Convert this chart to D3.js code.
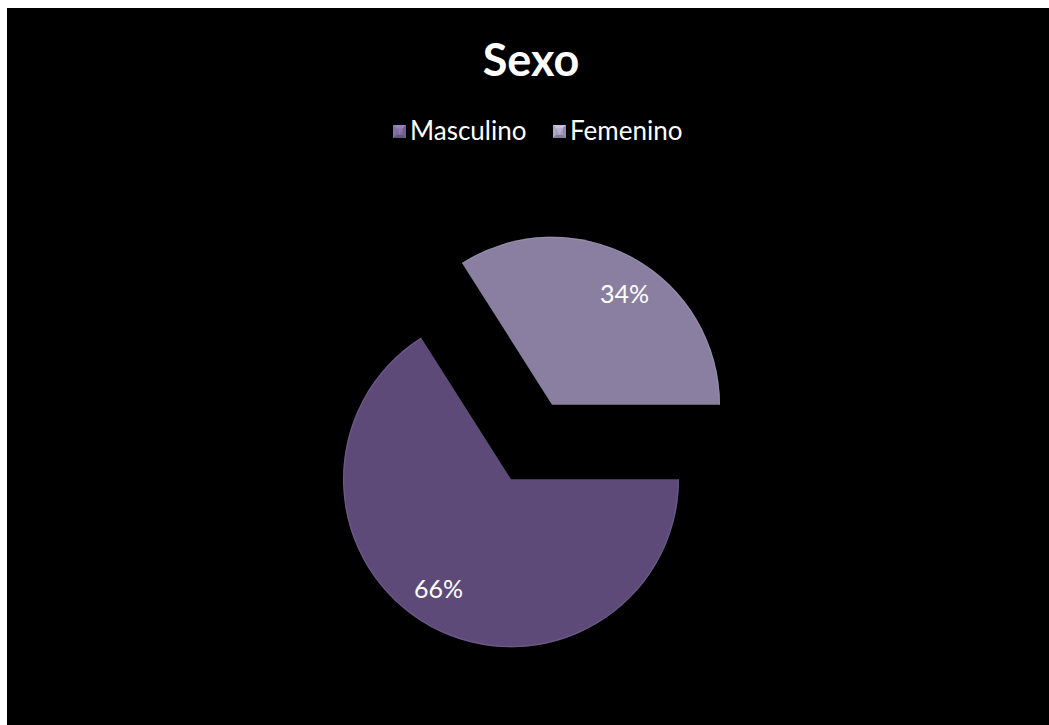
<!DOCTYPE html>
<html>
<head>
<meta charset="utf-8">
<script src="https://cdn.jsdelivr.net/npm/d3@7"></script>
<style>
  html, body { margin: 0; padding: 0; background: #ffffff; }
  svg { display: block; }
</style>
</head>
<body>
<script>
// Chart data
const categories = ["Masculino", "Femenino"];
const values = [66, 34];
const valueLabels = ["66%", "34%"];
const sliceColors = ["#5e4a79", "#8a7fa1"];
const edgeColors = ["#7b6a9b", "#a49abb"];
const title = "Sexo";

const W = 1049, H = 725;
const FONT = "Lato, 'Open Sans', sans-serif";

const svg = d3.select("body").append("svg")
  .attr("width", W).attr("height", H);

// Chart area background
svg.append("rect")
  .attr("x", 7).attr("y", 8)
  .attr("width", W - 7).attr("height", H - 8)
  .attr("fill", "#000000");

// Title
svg.append("text")
  .attr("x", 531).attr("y", 76)
  .attr("text-anchor", "middle")
  .attr("font-family", FONT)
  .attr("font-weight", "bold")
  .attr("font-size", 45)
  .attr("fill", "#ffffff")
  .text(title);

// Legend
const legendX = [393, 553];
const mk = 13;
const legend = svg.append("g");
categories.forEach((c, i) => {
  const g = legend.append("g").attr("transform", `translate(${legendX[i]},125)`);
  const base = d3.color(edgeColors[i]);
  const inset = 3;
  // bevelled square marker drawn as four faces
  const faces = [
    { pts: [[0,0],[mk,0],[mk-inset,inset],[inset,inset]], c: base.brighter(0.6) },
    { pts: [[0,0],[inset,inset],[inset,mk-inset],[0,mk]], c: base.brighter(0.2) },
    { pts: [[mk,0],[mk,mk],[mk-inset,mk-inset],[mk-inset,inset]], c: base.darker(0.3) },
    { pts: [[0,mk],[inset,mk-inset],[mk-inset,mk-inset],[mk,mk]], c: base.darker(0.6) }
  ];
  g.append("rect").attr("width", mk).attr("height", mk).attr("fill", base);
  faces.forEach(f => g.append("polygon")
    .attr("points", f.pts.map(p => p.join(",")).join(" "))
    .attr("fill", f.c));
  g.append("polygon")
    .attr("points", `${inset},${inset} ${mk-inset},${inset} ${mk/2},${mk-inset}`)
    .attr("fill", base.brighter(0.35));
  g.append("text")
    .attr("x", mk + 4).attr("y", mk + 2)
    .attr("font-family", FONT)
    .attr("font-size", 26)
    .attr("fill", "#ffffff")
    .text(c);
});

// Pie
const cx = 531.5, cy = 442, radius = 168, explode = 42.5;
const pie = d3.pie().sort(null).value(d => d)
  .startAngle(Math.PI / 2).endAngle(Math.PI / 2 + 2 * Math.PI);
const arcs = pie(values);
const arc = d3.arc().innerRadius(0).outerRadius(radius);

const slices = svg.append("g").attr("transform", `translate(${cx},${cy})`);
arcs.forEach((a, i) => {
  const mid = (a.startAngle + a.endAngle) / 2;
  const dx = Math.sin(mid) * explode, dy = -Math.cos(mid) * explode;
  const g = slices.append("g").attr("transform", `translate(${dx},${dy})`);
  g.append("path")
    .attr("d", arc(a))
    .attr("fill", sliceColors[i]);
  // soft rim along the outer edge
  g.append("path")
    .attr("d", d3.arc().innerRadius(radius - 1.2).outerRadius(radius)(a))
    .attr("fill", edgeColors[i])
    .attr("opacity", 0.5);
  // percentage label
  const la = mid + 4.5 * Math.PI / 180;
  const lr = 132;
  g.append("text")
    .attr("x", Math.sin(la) * lr)
    .attr("y", -Math.cos(la) * lr)
    .attr("dy", "0.35em")
    .attr("text-anchor", "middle")
    .attr("font-family", FONT)
    .attr("font-size", 25)
    .attr("fill", "#ffffff")
    .text(valueLabels[i]);
});
</script>
</body>
</html>
